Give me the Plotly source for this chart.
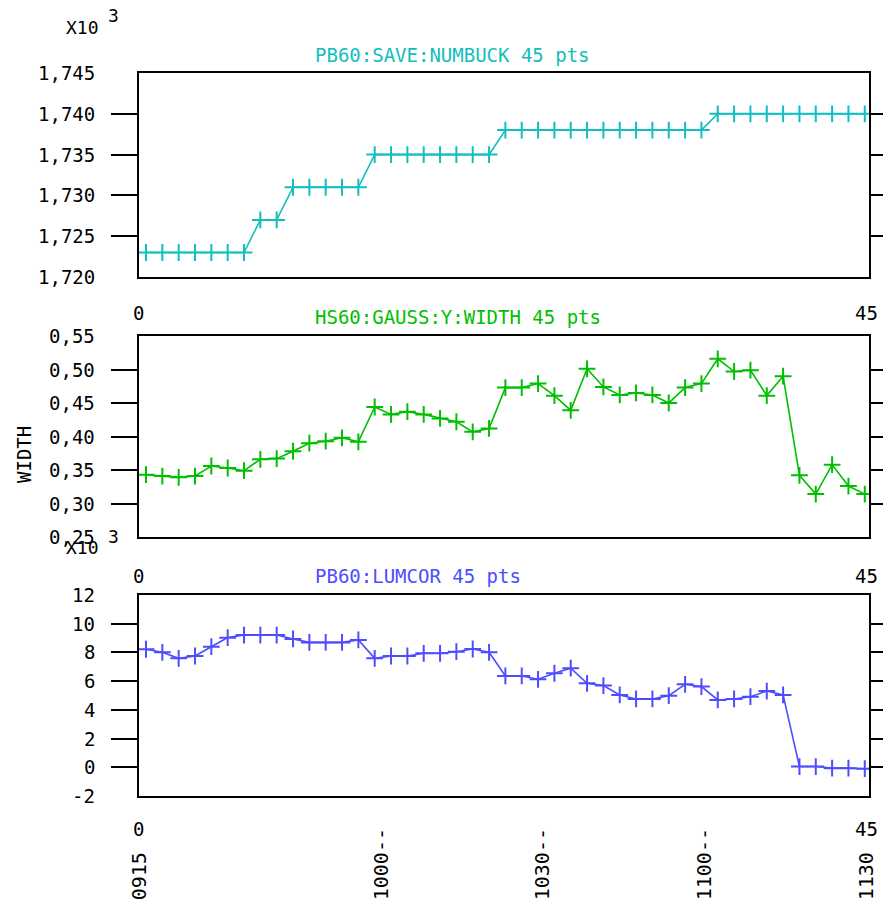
import plotly.graph_objects as go

# ---------------- data ----------------
times = ["09:16:18", "09:19:20", "09:22:22", "09:25:24", "09:28:26", "09:31:28", "09:34:30",
         "09:37:32", "09:40:34", "09:43:36", "09:46:38", "09:49:40", "09:52:42", "09:55:44",
         "09:58:46", "10:01:48", "10:04:50", "10:07:52", "10:10:54", "10:13:56", "10:16:58",
         "10:20:00", "10:23:02", "10:26:04", "10:29:06", "10:32:08", "10:35:10", "10:38:12",
         "10:41:14", "10:44:16", "10:47:18", "10:50:20", "10:53:22", "10:56:24", "10:59:26",
         "11:02:28", "11:05:30", "11:08:32", "11:11:34", "11:14:36", "11:17:38", "11:20:40",
         "11:23:42", "11:26:44", "11:29:46"]

numbuck = [1723, 1723, 1723, 1723, 1723, 1723, 1723, 1727, 1727, 1731, 1731, 1731, 1731, 1731,
           1735, 1735, 1735, 1735, 1735, 1735, 1735, 1735, 1738, 1738, 1738, 1738, 1738, 1738,
           1738, 1738, 1738, 1738, 1738, 1738, 1738, 1740, 1740, 1740, 1740, 1740, 1740, 1740,
           1740, 1740, 1740]

gauss_width = [0.343, 0.341, 0.339, 0.341, 0.356, 0.353, 0.349, 0.366, 0.367, 0.378,
               0.390, 0.393, 0.398, 0.392, 0.444, 0.433, 0.437, 0.433, 0.427, 0.422,
               0.407, 0.412, 0.473, 0.473, 0.479, 0.461, 0.439, 0.501, 0.474, 0.462,
               0.465, 0.462, 0.450, 0.473, 0.479, 0.516, 0.497, 0.499, 0.461, 0.490,
               0.342, 0.314, 0.358, 0.326, 0.314]

lumcor = [8220, 8010, 7590, 7750, 8400, 9030, 9210, 9210, 9210, 8940,
          8700, 8700, 8700, 8870, 7590, 7750, 7750, 7940, 7940, 8050,
          8240, 8010, 6360, 6360, 6130, 6550, 6900, 5850, 5690, 5040,
          4760, 4760, 4990, 5780, 5620, 4690, 4760, 4920, 5310, 5040,
          50, 50, -60, -60, -100]

titles = ["PB60:SAVE:NUMBUCK 45 pts", "HS60:GAUSS:Y:WIDTH 45 pts", "PB60:LUMCOR 45 pts"]

y1_vals = [1720, 1725, 1730, 1735, 1740, 1745]
y1_text = ["1,720", "1,725", "1,730", "1,735", "1,740", "1,745"]
y2_vals = [0.25, 0.30, 0.35, 0.40, 0.45, 0.50, 0.55]
y2_text = ["0,25", "0,30", "0,35", "0,40", "0,45", "0,50", "0,55"]
y3_vals = [-2000, 0, 2000, 4000, 6000, 8000, 10000, 12000]
y3_text = ["-2", "0", "2", "4", "6", "8", "10", "12"]

x_tick_times = ["09:15:00", "10:00:00", "10:30:00", "11:00:00", "11:30:00"]
x_tick_text = ["0915\u00a0\u00a0", "1000--", "1030--", "1100--", "1130\u00a0\u00a0"]

DAY = "2024-01-01 "
xs = [DAY + t for t in times]
x_range = [DAY + "09:15:00", DAY + "11:30:33"]

CYAN = "#12bebe"
GREEN = "#00bf00"
BLUE = "#4d4dff"
FONT = "DejaVu Sans Mono"

W, H = 883, 903
L, R, T, B = 139, 14, 73, 107
PW, PH = W - L - R, H - T - B


def px(x):
    return (x - L) / PW


def py(y):
    return (H - B - y) / PH


def dom(top, bottom):
    return [py(bottom), py(top)]


d1 = dom(73, 277)
d2 = dom(336, 537)
d3 = dom(595, 796)

fig = go.Figure()
series = [(numbuck, CYAN, "x", "y"), (gauss_width, GREEN, "x2", "y2"), (lumcor, BLUE, "x3", "y3")]
for vals, col, xa, ya in series:
    fig.add_trace(go.Scatter(
        x=xs, y=vals, xaxis=xa, yaxis=ya, mode="lines+markers",
        line=dict(color=col, width=1.6),
        marker=dict(symbol="cross-thin", size=12, line=dict(color=col, width=2)),
        showlegend=False, hoverinfo="skip"))

xbase = dict(range=x_range, showline=True, linewidth=2, linecolor="black", mirror=True,
             showgrid=False, zeroline=False, type="date")
# y axes: tick marks on both sides (main on the right, mirrored to the left); labels as text
ybase = dict(side="right", showline=True, linewidth=2, linecolor="black", mirror="ticks",
             ticks="outside", ticklen=26, tickwidth=2, tickcolor="black",
             showticklabels=False, showgrid=False, zeroline=False)

fig.update_layout(
    width=W, height=H, margin=dict(l=L, r=R, t=T, b=B, autoexpand=False),
    paper_bgcolor="white", plot_bgcolor="white",
    xaxis=dict(xbase, anchor="y", showticklabels=False, ticks=""),
    xaxis2=dict(xbase, anchor="y2", showticklabels=False, ticks=""),
    xaxis3=dict(xbase, anchor="y3", tickmode="array",
                tickvals=[DAY + t for t in x_tick_times], ticktext=x_tick_text,
                tickangle=-90, ticks="outside", ticklen=22, tickcolor="rgba(0,0,0,0)",
                tickfont=dict(family=FONT, size=20, color="black")),
    yaxis=dict(ybase, domain=d1, anchor="x", range=[1720, 1745], tickvals=y1_vals[1:-1]),
    yaxis2=dict(ybase, domain=d2, anchor="x2", range=[0.25, 0.55], tickvals=y2_vals[1:-1]),
    yaxis3=dict(ybase, domain=d3, anchor="x3", range=[-2000, 12000], tickvals=y3_vals[1:-1]),
)

anns = []


def ann(x, y, text, color="black", xanchor="left", size=19, angle=0):
    anns.append(dict(x=px(x), y=py(y), xref="paper", yref="paper", text=text,
                     showarrow=False, xanchor=xanchor, yanchor="middle", textangle=angle,
                     font=dict(family=FONT, size=size, color=color)))


# y value labels, positioned on each axis's own scale
for yref, vals, texts in (("y", y1_vals, y1_text), ("y2", y2_vals, y2_text), ("y3", y3_vals, y3_text)):
    for v, t in zip(vals, texts):
        anns.append(dict(x=px(97), y=v, xref="paper", yref=yref, text=t, showarrow=False,
                         xanchor="right", yanchor="middle",
                         font=dict(family=FONT, size=19, color="black")))

# titles
ann(313, 55, titles[0], CYAN)
ann(313, 317, titles[1], GREEN)
ann(313, 576, titles[2], BLUE)
# multipliers
ann(64, 27, "X10", size=18)
ann(106, 15, "3", size=18)
ann(64, 547, "X10", size=18)
ann(106, 536, "3", size=18)
# index labels
for yy in (313, 576, 829):
    ann(138, yy, "0", xanchor="center")
    ann(866, yy, "45", xanchor="center")
# y title
ann(24, 455, "WIDTH", xanchor="center", angle=-90)

fig.update_layout(annotations=anns)
fig.write_html("out.html")
